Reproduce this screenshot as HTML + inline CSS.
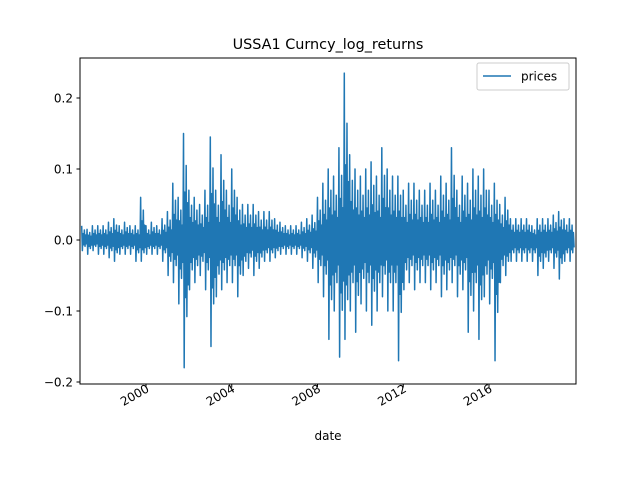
<!DOCTYPE html>
<html><head><meta charset="utf-8">
<style>
body{margin:0;background:#fff;}
svg text{font-family:"DejaVu Sans","Liberation Sans",sans-serif;fill:#000;}
</style></head>
<body>
<svg id="chart" width="640" height="480" xmlns="http://www.w3.org/2000/svg">
<rect width="640" height="480" fill="#fff"/>
<text x="328" y="49" text-anchor="middle" font-size="14.4">USSA1 Curncy_log_returns</text>
<g id="plot"></g>
<rect x="80" y="58" width="496" height="326" fill="none" stroke="#000" stroke-width="1"/>
<g id="yticks"></g>
<g id="xticks"></g>
<text x="328" y="440" text-anchor="middle" font-size="12">date</text>
<g>
<rect x="477" y="63" width="92" height="27" rx="2" fill="#fff" stroke="#ccc" stroke-width="1"/>
<line x1="483" y1="76" x2="511" y2="76" stroke="#1f77b4" stroke-width="1.5"/>
<text x="521" y="80.5" font-size="12">prices</text>
</g>
</svg>
<script>
const startYear = 1997;
const yTicks = [-0.2, -0.1, 0.0, 0.1, 0.2];
const yTickLabels = ["\u22120.2", "\u22120.1", "0.0", "0.1", "0.2"];
const xTicks = [2000, 2004, 2008, 2012, 2016];
const xTickLabels = ["2000", "2004", "2008", "2012", "2016"];
const highs = [
.02,.015,.02,.02, .02,.025,.03,.02, .025,.02,.02,.06, .02,.025,.02,.03,
.04,.08,.06,.15, .07,.06,.05,.07, .145,.07,.12,.07, .10,.06,.05,.05,
.05,.04,.04,.04, .03,.025,.02,.02, .02,.025,.03,.035, .06,.08,.1,.09,
.13,.235,.12,.1, .09,.1,.11,.09, .13,.1,.09,.09, .07,.08,.08,.07,
.07,.08,.07,.09, .08,.13,.07,.09, .08,.1,.09,.1, .07,.08,.05,.06,
.03,.03,.03,.03, .02,.03,.03,.03, .035,.04,.03,.03];
const lows = [
-.015,-.02,-.015,-.02, -.02,-.025,-.03,-.02, -.02,-.02,-.03,-.03, -.02,-.02,-.02,-.03,
-.05,-.06,-.09,-.18, -.07,-.06,-.05,-.07, -.15,-.08,-.07,-.06, -.06,-.08,-.05,-.04,
-.05,-.04,-.03,-.03, -.025,-.02,-.02,-.02, -.02,-.025,-.03,-.04, -.06,-.08,-.14,-.1,
-.165,-.14,-.1,-.13, -.09,-.1,-.12,-.1, -.08,-.1,-.1,-.17, -.07,-.06,-.07,-.06,
-.06,-.07,-.06,-.08, -.07,-.06,-.08,-.07, -.13,-.1,-.14,-.08, -.09,-.17,-.06,-.05,
-.03,-.03,-.03,-.03, -.03,-.05,-.04,-.03, -.04,-.055,-.03,-.03];

const NS = "http://www.w3.org/2000/svg";
function xs(year){ return 146 + (year - 2000) * (489 - 146) / 16; }
function ys(v){ return 240 - v * 710; }

const plot = document.getElementById('plot');
let pts = [];
for (let i = 0; i < highs.length; i++) {
  const t0 = startYear + i / 4;
  const sub = [highs[i], lows[i], highs[i]*0.45, lows[i]*0.45, highs[i]*0.7, lows[i]*0.6, highs[i]*0.35, lows[i]*0.35];
  for (let k = 0; k < sub.length; k++) {
    const x = Math.max(80, Math.min(576, xs(t0 + k / (sub.length * 4))));
    pts.push(x.toFixed(2) + "," + ys(sub[k]).toFixed(2));
  }
}
const line = document.createElementNS(NS, 'polyline');


line.setAttribute('points', pts.join(' '));
line.setAttribute('fill', 'none');
line.setAttribute('stroke', '#1f77b4');
line.setAttribute('stroke-width', '1.5');
line.setAttribute('stroke-linejoin', 'round');
plot.appendChild(line);

const yg = document.getElementById('yticks');
yTicks.forEach((v, i) => {
  const y = ys(v);
  const t = document.createElementNS(NS, 'line');
  
  
  t.setAttribute('x1', 76.5); t.setAttribute('x2', 80); t.setAttribute('y1', y); t.setAttribute('y2', y);
  t.setAttribute('stroke', '#000');
  yg.appendChild(t);
  const l = document.createElementNS(NS, 'text');
  
  
  l.setAttribute('x', 73); l.setAttribute('y', y + 4.5);
  l.setAttribute('text-anchor', 'end'); l.setAttribute('font-size', '12');
  l.textContent = yTickLabels[i];
  yg.appendChild(l);
});

const xg = document.getElementById('xticks');
xTicks.forEach((yr, i) => {
  const x = xs(yr);
  const t = document.createElementNS(NS, 'line');
  
  
  t.setAttribute('x1', x); t.setAttribute('x2', x); t.setAttribute('y1', 384); t.setAttribute('y2', 387.5);
  t.setAttribute('stroke', '#000');
  xg.appendChild(t);
  const l = document.createElementNS(NS, 'text');
  
  
  l.setAttribute('font-size', '12');
  l.setAttribute('text-anchor', 'end');
  l.setAttribute('transform', 'translate(' + (x + 4) + ',391) rotate(-30)');
  l.textContent = xTickLabels[i];
  xg.appendChild(l);
});
</script>
</body></html>
